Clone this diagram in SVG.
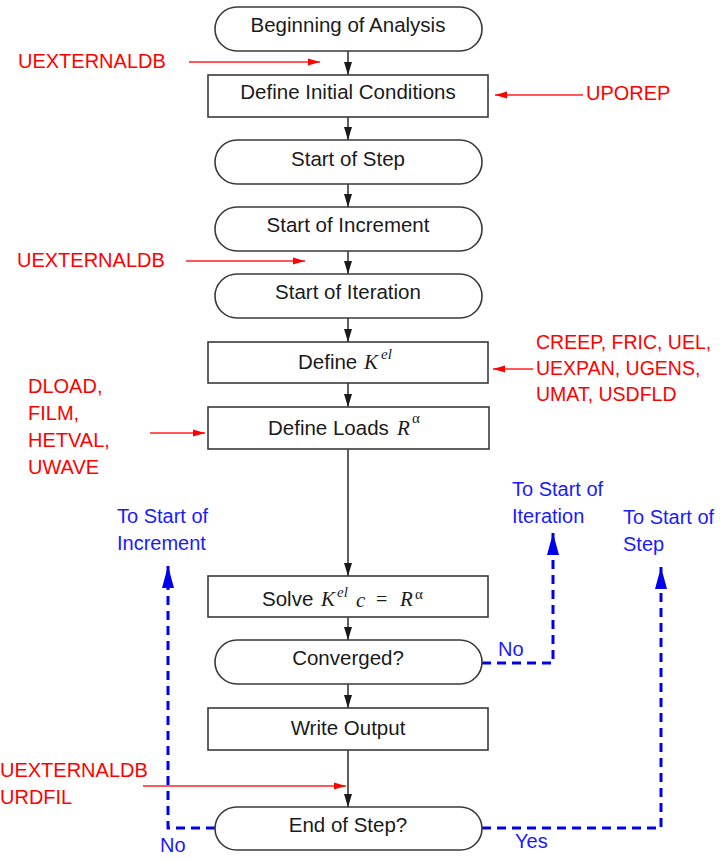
<svg xmlns="http://www.w3.org/2000/svg" width="723" height="861" viewBox="0 0 723 861">
<style>
.bg{fill:#ffffff}
.box{fill:#ffffff;stroke:#3a3a3a;stroke-width:1.6}
.lbl{font-family:"Liberation Sans",Arial,sans-serif;font-size:20.5px;fill:#1a1a1a}
.c{text-anchor:middle}
.m{font-family:"Liberation Serif","Times New Roman",serif;font-style:italic;font-size:21px}
.ms{font-family:"Liberation Serif","Times New Roman",serif;font-style:italic;font-size:15px}
.mg{font-family:"Liberation Serif","Times New Roman",serif;font-size:15px}
.eq{font-family:"Liberation Serif","Times New Roman",serif;font-size:20px}
.red{font-family:"Liberation Sans",Arial,sans-serif;font-size:20px;fill:#ff0000}
.blue{font-family:"Liberation Sans",Arial,sans-serif;font-size:20px;fill:#1a1aff}
.conn{stroke:#1a1a1a;stroke-width:1.4;fill:none}
.rconn{stroke:#ff2020;stroke-width:1.4;fill:none}
.bconn{stroke:#0000ee;stroke-width:3;stroke-dasharray:9 6;fill:none}
</style>
<defs>
<marker id="ab" markerUnits="userSpaceOnUse" markerWidth="14" markerHeight="8" refX="13" refY="4" orient="auto"><path d="M0,0 L13,4 L0,8 z" fill="#1a1a1a"/></marker>
<marker id="ar" markerUnits="userSpaceOnUse" markerWidth="13" markerHeight="8" refX="12" refY="4" orient="auto"><path d="M0,0.5 L12,4 L0,7.5 z" fill="#ff0000"/></marker>
<marker id="abl" markerUnits="userSpaceOnUse" markerWidth="23" markerHeight="13" refX="22" refY="6.5" orient="auto"><path d="M0,0.5 L22,6.5 L0,12.5 z" fill="#0000ee"/></marker>
</defs>
<rect class="bg" x="0" y="0" width="723" height="861"/>

<g id="connectors">
<line class="conn" x1="348" y1="51" x2="348" y2="75" marker-end="url(#ab)"/>
<line class="conn" x1="348" y1="117" x2="348" y2="140" marker-end="url(#ab)"/>
<line class="conn" x1="348" y1="184" x2="348" y2="207" marker-end="url(#ab)"/>
<line class="conn" x1="348" y1="251" x2="348" y2="274" marker-end="url(#ab)"/>
<line class="conn" x1="348" y1="318" x2="348" y2="342" marker-end="url(#ab)"/>
<line class="conn" x1="348" y1="383" x2="348" y2="407" marker-end="url(#ab)"/>
<line class="conn" x1="348" y1="449" x2="348" y2="576" marker-end="url(#ab)"/>
<line class="conn" x1="348" y1="617" x2="348" y2="640" marker-end="url(#ab)"/>
<line class="conn" x1="348" y1="684" x2="348" y2="708" marker-end="url(#ab)"/>
<line class="conn" x1="348" y1="750" x2="348" y2="807" marker-end="url(#ab)"/>

<line class="rconn" x1="189" y1="62" x2="320" y2="62" marker-end="url(#ar)"/>
<line class="rconn" x1="583" y1="95" x2="495" y2="95" marker-end="url(#ar)"/>
<line class="rconn" x1="186" y1="261" x2="305" y2="261" marker-end="url(#ar)"/>
<line class="rconn" x1="533" y1="369" x2="493" y2="369" marker-end="url(#ar)"/>
<line class="rconn" x1="150" y1="433" x2="205" y2="433" marker-end="url(#ar)"/>
<line class="rconn" x1="143" y1="786" x2="346" y2="786" marker-end="url(#ar)"/>

<path class="bconn" d="M482,663 H553 V533" marker-end="url(#abl)"/>
<path class="bconn" d="M482,828 H661 V567" marker-end="url(#abl)"/>
<path class="bconn" d="M215,828 H168 V566" marker-end="url(#abl)"/>
</g>

<g id="n-begin"><rect class="box" x="215" y="7" width="267" height="44" rx="22"/><text class="lbl c" x="348" y="32">Beginning of Analysis</text></g>
<g id="n-init"><rect class="box" x="208" y="75" width="280" height="42"/><text class="lbl c" x="348" y="99">Define Initial Conditions</text></g>
<g id="n-step"><rect class="box" x="215" y="140" width="267" height="44" rx="22"/><text class="lbl c" x="348" y="166">Start of Step</text></g>
<g id="n-inc"><rect class="box" x="215" y="207" width="267" height="44" rx="22"/><text class="lbl c" x="348" y="232">Start of Increment</text></g>
<g id="n-iter"><rect class="box" x="215" y="274" width="267" height="44" rx="22"/><text class="lbl c" x="348" y="299">Start of Iteration</text></g>
<g id="n-kel"><rect class="box" x="208" y="342" width="280" height="41"/><text class="lbl" x="298" y="369">Define <tspan class="m" x="364">K</tspan><tspan class="ms" x="381" y="359">el</tspan></text></g>
<g id="n-loads"><rect class="box" x="208" y="407" width="281" height="42"/><text class="lbl" x="268" y="435">Define Loads <tspan class="m" x="397">R</tspan><tspan class="mg" x="412" y="423">α</tspan></text></g>
<g id="n-solve"><rect class="box" x="208" y="576" width="280" height="41"/><text class="lbl" x="262" y="606">Solve <tspan class="m" x="321">K</tspan><tspan class="ms" x="337" y="597">el</tspan><tspan class="m" x="356" y="607">c</tspan><tspan class="eq" x="376" y="606">=</tspan><tspan class="m" x="400" y="606">R</tspan><tspan class="mg" x="415" y="599">α</tspan></text></g>
<g id="n-conv"><rect class="box" x="215" y="640" width="267" height="44" rx="22"/><text class="lbl c" x="348" y="665">Converged?</text></g>
<g id="n-write"><rect class="box" x="208" y="708" width="280" height="42"/><text class="lbl c" x="348" y="735">Write Output</text></g>
<g id="n-end"><rect class="box" x="215" y="807" width="267" height="43" rx="21.5"/><text class="lbl c" x="348" y="832">End of Step?</text></g>

<g id="red-labels">
<text class="red" x="18" y="68">UEXTERNALDB</text>
<text class="red" x="586" y="100">UPOREP</text>
<text class="red" x="17" y="267">UEXTERNALDB</text>
<text class="red" style="font-size:19.5px"><tspan x="536" y="349">CREEP, FRIC, UEL,</tspan><tspan x="536" y="375">UEXPAN, UGENS,</tspan><tspan x="536" y="401">UMAT, USDFLD</tspan></text>
<text class="red"><tspan x="28" y="393">DLOAD,</tspan><tspan x="28" y="420">FILM,</tspan><tspan x="28" y="447">HETVAL,</tspan><tspan x="28" y="474">UWAVE</tspan></text>
<text class="red"><tspan x="0" y="777">UEXTERNALDB</tspan><tspan x="0" y="804">URDFIL</tspan></text>
</g>

<g id="blue-labels">
<text class="blue"><tspan x="117" y="523">To Start of</tspan><tspan x="117" y="550">Increment</tspan></text>
<text class="blue"><tspan x="512" y="496">To Start of</tspan><tspan x="512" y="523">Iteration</tspan></text>
<text class="blue"><tspan x="623" y="524">To Start of</tspan><tspan x="623" y="551">Step</tspan></text>
<text class="blue" x="498" y="656">No</text>
<text class="blue" x="160" y="852">No</text>
<text class="blue" x="515" y="848">Yes</text>
</g>
</svg>
